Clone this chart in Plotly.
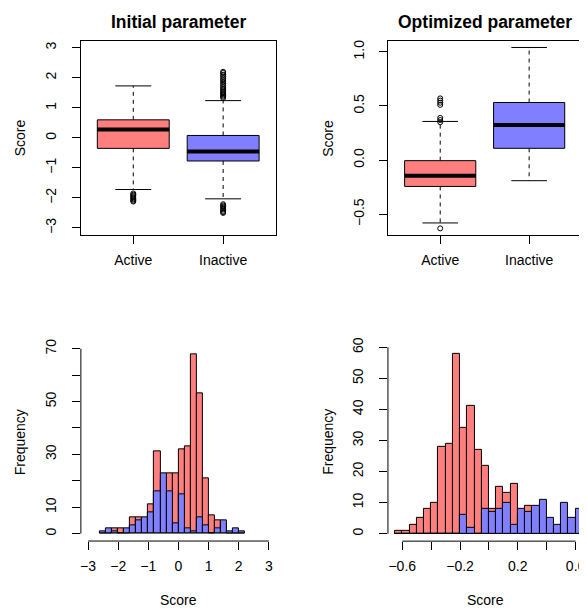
import plotly.graph_objects as go

# The page adds an 8px body margin, so the figure is drawn 8px in from the window corner
PAGE_W, PAGE_H = 587, 610
OFF = 8
W, H = PAGE_W - OFF, PAGE_H - OFF

# ---------------- data ----------------
categories = ["Active", "Inactive"]

# Initial parameter boxplot stats  [Active, Inactive]
init_q1 = [-0.35, -0.77]
init_median = [0.28, -0.45]
init_q3 = [0.60, 0.08]
init_lower = [-1.72, -2.03]
init_upper = [1.73, 1.24]
init_active_outliers = [-1.85, -1.89, -1.93, -1.97, -2.01, -2.05, -2.09, -2.12]
init_inactive_outliers = [1.33, 1.37, 1.41, 1.45, 1.49, 1.53, 1.58, 1.63, 1.68, 1.74,
                          1.80, 1.86, 1.92, 1.98, 2.04, 2.10, 2.16, 2.20,
                          -2.21, -2.25, -2.29, -2.33, -2.38, -2.43, -2.47, -2.50]

# Optimized parameter boxplot stats  [Active, Inactive]
opt_q1 = [-0.243, 0.109]
opt_median = [-0.145, 0.324]
opt_q3 = [-0.005, 0.532]
opt_lower = [-0.58, -0.19]
opt_upper = [0.357, 1.04]
opt_active_outliers = [0.35, 0.37, 0.39, 0.51, 0.53, 0.55, 0.57, -0.63]
opt_inactive_outliers = []

# Histogram of initial scores: bins of 0.2 starting at -2.6
init_bin_start = -2.6
init_bin_width = 0.2
init_active_counts = [0, 0, 2, 2, 0, 6, 6, 5, 11, 31, 20, 23, 23, 32, 33, 68, 53, 21, 7, 5, 4, 0, 0, 0]
init_inactive_counts = [1, 2, 1, 0, 2, 3, 5, 6, 8, 16, 23, 16, 4, 15, 2, 1, 6, 3, 0, 2, 5, 1, 2, 1]

# Histogram of optimized scores: bins of 0.05 starting at -0.65
opt_bin_start = -0.65
opt_bin_width = 0.05
opt_active_counts = [1, 1, 3, 5, 8, 10, 28, 29, 58, 34, 41, 27, 22, 8, 15, 13, 16, 6, 9, 4, 2, 1, 0, 1, 0, 0, 0]
opt_inactive_counts = [0, 0, 0, 0, 0, 0, 0, 0, 0, 6, 2, 0, 8, 7, 8, 10, 3, 8, 7, 9, 11, 5, 3, 10, 5, 8, 5]

init_xticks = [-3, -2, -1, 0, 1, 2, 3]
init_yticks = [0, 10, 20, 30, 40, 50, 60, 70]
init_ytick_labels = ["0", "10", "", "30", "", "50", "", "70"]
opt_xticks = [-0.6, -0.4, -0.2, 0.0, 0.2, 0.4, 0.6]
opt_xtick_labels = ["\u22120.6", "", "\u22120.2", "", "0.2", "", "0.6"]
opt_yticks = [0, 10, 20, 30, 40, 50, 60]
box_init_yticks = [-3, -2, -1, 0, 1, 2, 3]
box_opt_yticks = [-0.5, 0.0, 0.5, 1.0]

RED = "#FF7F7F"
BLUE = "#7F7FFF"
FONT = "Liberation Sans, Arial, sans-serif"

fig = go.Figure()


def add_box(xa, ya, pos, q1, med, q3, lo, hi, outl, color):
    hw, cw = 0.4, 0.2
    kw = dict(xaxis=xa, yaxis=ya, hoverinfo="skip", showlegend=False)
    fig.add_trace(go.Scatter(x=[pos, pos, None, pos, pos], y=[q3, hi, None, q1, lo],
                             mode="lines", line=dict(color="black", width=1, dash="4px,4px"), **kw))
    fig.add_trace(go.Scatter(x=[pos - cw, pos + cw, None, pos - cw, pos + cw], y=[hi, hi, None, lo, lo],
                             mode="lines", line=dict(color="black", width=1), **kw))
    fig.add_trace(go.Scatter(x=[pos - hw, pos + hw, pos + hw, pos - hw, pos - hw], y=[q1, q1, q3, q3, q1],
                             mode="lines", fill="toself", fillcolor=color,
                             line=dict(color="black", width=1), **kw))
    fig.add_trace(go.Scatter(x=[pos - hw, pos + hw], y=[med, med], mode="lines",
                             line=dict(color="black", width=4), **kw))
    if outl:
        fig.add_trace(go.Scatter(x=[pos] * len(outl), y=outl, mode="markers",
                                 marker=dict(symbol="circle-open", size=5, color="black",
                                             line=dict(width=1, color="black")), **kw))


colors = [RED, BLUE]
init_out = [init_active_outliers, init_inactive_outliers]
opt_out = [opt_active_outliers, opt_inactive_outliers]
for i in range(2):
    add_box("x", "y", i + 1, init_q1[i], init_median[i], init_q3[i], init_lower[i], init_upper[i],
            init_out[i], colors[i])
    add_box("x2", "y2", i + 1, opt_q1[i], opt_median[i], opt_q3[i], opt_lower[i], opt_upper[i],
            opt_out[i], colors[i])


def centers(start, width, n):
    return [start + width * (k + 0.5) for k in range(n)]


for counts, color in [(init_active_counts, RED), (init_inactive_counts, BLUE)]:
    fig.add_trace(go.Bar(x=centers(init_bin_start, init_bin_width, len(counts)), y=counts,
                         width=init_bin_width, marker=dict(color=color, line=dict(color="black", width=1)),
                         xaxis="x3", yaxis="y3", showlegend=False, hoverinfo="skip"))
for counts, color in [(opt_active_counts, RED), (opt_inactive_counts, BLUE)]:
    fig.add_trace(go.Bar(x=centers(opt_bin_start, opt_bin_width, len(counts)), y=counts,
                         width=opt_bin_width, marker=dict(color=color, line=dict(color="black", width=1)),
                         xaxis="x4", yaxis="y4", showlegend=False, hoverinfo="skip"))


def px_x(a, b):
    return [max(0.0, (a - OFF) / W), min(1.0, (b - OFF) / W)]


def px_y(top, bottom):
    return [max(0.0, 1 - (bottom - OFF) / H), min(1.0, 1 - (top - OFF) / H)]


tickfont = dict(family=FONT, size=14, color="black")
common = dict(showgrid=False, zeroline=False, ticks="outside", ticklen=8, tickwidth=1,
              tickcolor="black", tickfont=tickfont, linecolor="black", linewidth=1)
xstand = dict(ticklabelstandoff=4)
ystand = dict(ticklabelstandoff=10)

fig.update_layout(
    width=W, height=H, margin=dict(l=0, r=0, t=0, b=0),
    paper_bgcolor="white", plot_bgcolor="white", barmode="overlay", bargap=0,
    xaxis=dict(domain=px_x(80, 275), range=[0.417, 2.583], tickvals=[1, 2], ticktext=categories,
               showline=True, mirror=True, anchor="y", **common, **xstand),
    yaxis=dict(domain=px_y(37.7, 233.3), range=[-3.24, 3.24], tickvals=box_init_yticks, tickangle=-90,
               showline=True, mirror=True, anchor="x", **common, **ystand),
    xaxis2=dict(domain=px_x(388, 581), range=[0.417, 2.583], tickvals=[1, 2], ticktext=categories,
                showline=True, mirror=True, anchor="y2", **common, **xstand),
    yaxis2=dict(domain=px_y(37.7, 233.3), range=[-0.693, 1.104], tickvals=box_opt_yticks, tickformat=".1f",
                tickangle=-90, showline=True, mirror=True, anchor="x2", **common, **ystand),
    xaxis3=dict(domain=px_x(80, 275.5), range=[-3.24, 3.24], tickvals=init_xticks,
                showline=False, anchor="y3", **common, **xstand),
    yaxis3=dict(domain=px_y(340, 540.7), range=[-2.8, 72.8], tickvals=init_yticks, ticktext=init_ytick_labels,
                tickangle=-90, showline=False, anchor="x3", **common, **ystand),
    xaxis4=dict(domain=px_x(387.6, 587), range=[-0.699, 0.679], tickvals=opt_xticks, ticktext=opt_xtick_labels,
                showline=False, anchor="y4", **common, **xstand),
    yaxis4=dict(domain=px_y(338.5, 540.8), range=[-2.4, 62.4], tickvals=opt_yticks,
                tickangle=-90, showline=False, anchor="x4", **common, **ystand),
)

# R-style axis lines spanning only the tick range
line = dict(color="black", width=1)
fig.add_shape(type="line", xref="x3", yref="y3 domain", x0=init_xticks[0], x1=init_xticks[-1], y0=0, y1=0, line=line)
fig.add_shape(type="line", xref="x3 domain", yref="y3", x0=0, x1=0, y0=init_yticks[0], y1=init_yticks[-1], line=line)
fig.add_shape(type="line", xref="x4", yref="y4 domain", x0=opt_xticks[0], x1=opt_xticks[-1], y0=0, y1=0, line=line)
fig.add_shape(type="line", xref="x4 domain", yref="y4", x0=0, x1=0, y0=opt_yticks[0], y1=opt_yticks[-1], line=line)

labfont = dict(family=FONT, size=14, color="black")
titlefont = dict(family=FONT, size=17.5, color="black", weight="bold")


def ann(text, x, y, font, angle=0):
    fig.add_annotation(text=text, x=(x - OFF) / W, y=1 - (y - OFF) / H, xref="paper", yref="paper",
                       showarrow=False, font=font, textangle=angle, xanchor="center", yanchor="middle")


ann("Initial parameter", 177.5, 19, titlefont)
ann("Optimized parameter", 484.5, 19, titlefont)
ann("Score", 18.5, 135.5, labfont, -90)
ann("Score", 327.5, 135.5, labfont, -90)
ann("Frequency", 18.5, 441, labfont, -90)
ann("Frequency", 327.5, 441, labfont, -90)
ann("Score", 177.5, 600, labfont)
ann("Score", 485, 600, labfont)

fig.write_html("out.html")
